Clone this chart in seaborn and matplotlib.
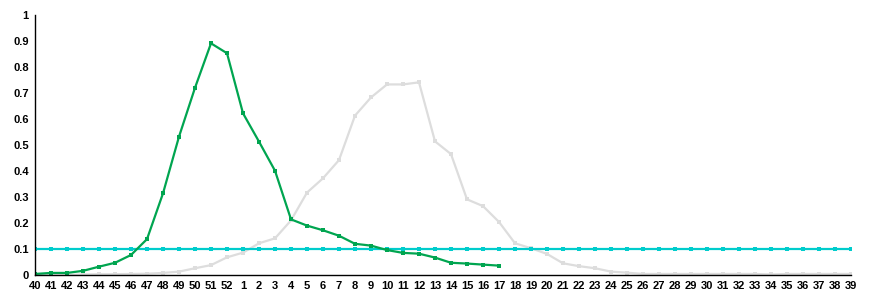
import matplotlib
matplotlib.use("Agg")
import matplotlib.pyplot as plt
import seaborn as sns
import pandas as pd
import numpy as np

weeks = [str(w) for w in list(range(40, 53)) + list(range(1, 40))]

green_values = [0.004, 0.008, 0.008, 0.016, 0.032, 0.047, 0.077, 0.138, 0.314, 0.532,
                0.720, 0.891, 0.853, 0.622, 0.513, 0.401, 0.214, 0.190, 0.172, 0.151,
                0.120, 0.113, 0.096, 0.085, 0.082, 0.067, 0.047, 0.044, 0.040, 0.036]

gray_values = [0.000, 0.000, 0.000, 0.002, 0.003, 0.003, 0.004, 0.005, 0.008, 0.013,
               0.026, 0.038, 0.068, 0.086, 0.122, 0.141, 0.210, 0.317, 0.372, 0.442,
               0.613, 0.683, 0.733, 0.733, 0.741, 0.514, 0.465, 0.291, 0.265, 0.204,
               0.122, 0.103, 0.081, 0.045, 0.034, 0.026, 0.013, 0.009, 0.004, 0.004,
               0.004, 0.004, 0.004, 0.004, 0.004, 0.004, 0.002, 0.004, 0.004, 0.004,
               0.004, 0.004]

cyan_values = [0.101] * len(weeks)

y_ticks = [0, 0.1, 0.2, 0.3, 0.4, 0.5, 0.6, 0.7, 0.8, 0.9, 1]
y_tick_labels = ["0", "0.1", "0.2", "0.3", "0.4", "0.5", "0.6", "0.7", "0.8", "0.9", "1"]

sns.set_theme(style="white")
plt.rcParams['font.family'] = ['Liberation Sans', 'DejaVu Sans']

def frame(vals):
    return pd.DataFrame({"pos": np.arange(len(vals)), "week": weeks[:len(vals)], "value": vals})

fig = plt.figure(figsize=(8.7, 3.0), dpi=100)
ax = fig.add_axes([35/870, 25/300, (851-35)/870, (275-15)/300])

common = dict(x="pos", y="value", marker="s", markersize=3, markeredgewidth=0,
              linewidth=1.6, ax=ax, legend=False)
sns.lineplot(data=frame(gray_values), color="#dddddd", **common)
sns.lineplot(data=frame(cyan_values), color="#00cccc", **common)
sns.lineplot(data=frame(green_values), color="#00a550", **common)

ax.set_xlim(0, len(weeks) - 1)
ax.set_ylim(0, 1)
ax.set_xticks(np.arange(len(weeks)))
ax.set_xticklabels(weeks)
ax.set_yticks(y_ticks)
ax.set_yticklabels(y_tick_labels)
ax.set_xlabel("")
ax.set_ylabel("")
for s in ["top", "right"]:
    ax.spines[s].set_visible(False)
for s in ["left", "bottom"]:
    ax.spines[s].set_color("black")
    ax.spines[s].set_linewidth(1)
ax.tick_params(axis="both", direction="inout", length=7, width=1, color="black",
               labelsize=8, labelcolor="black", pad=1)
for lab in ax.get_xticklabels() + ax.get_yticklabels():
    lab.set_fontweight("bold")
ax.grid(False)

fig.savefig("out.png", dpi=100)
